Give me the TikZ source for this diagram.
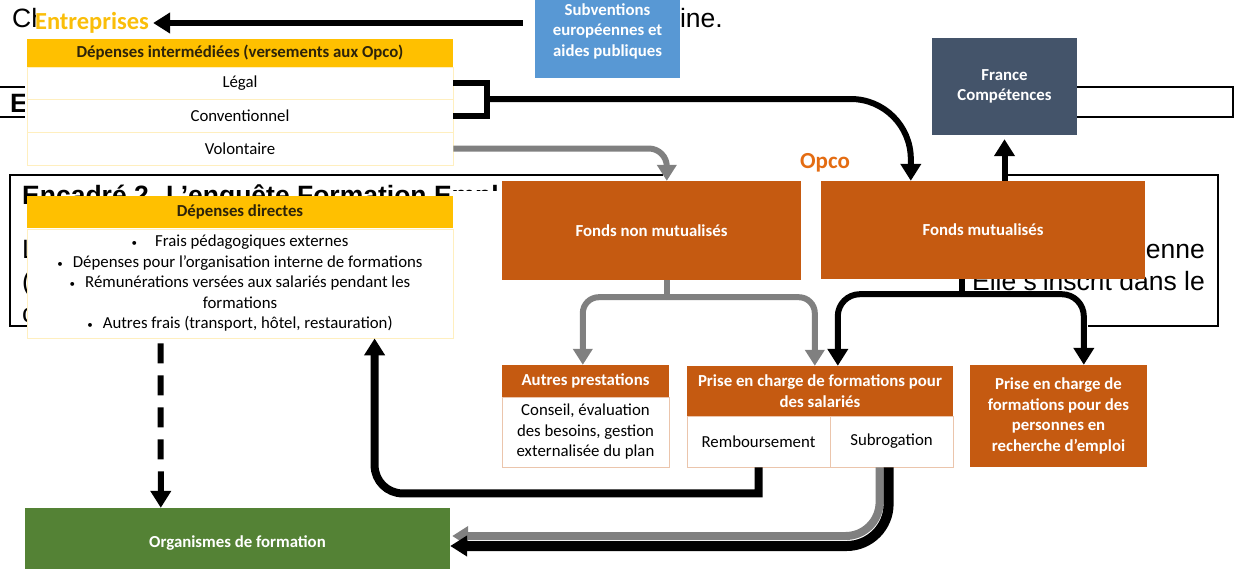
\documentclass[tikz,border=0pt]{standalone}
\usepackage{fontspec}
\setmainfont{Carlito}
\newfontfamily\pagefont{Liberation Sans}
\usetikzlibrary{arrows.meta, calc, positioning}

\definecolor{gold}{RGB}{255,192,0}
\definecolor{goldtext}{RGB}{250,190,10}
\definecolor{headtext}{RGB}{45,35,10}
\definecolor{opcoorange}{RGB}{197,90,17}
\definecolor{opcolabel}{RGB}{228,108,18}
\definecolor{subvblue}{RGB}{88,152,212}
\definecolor{fcslate}{RGB}{68,84,106}
\definecolor{ofgreen}{RGB}{84,130,53}
\definecolor{arrowgray}{RGB}{128,128,128}

\newcommand{\diagfont}{\fontsize{16.8}{20.5}\selectfont}
\newcommand{\bigfont}{\pagefont\fontsize{26.5}{32}\selectfont}
\newcommand{\puce}{{\fontsize{11}{11}\selectfont •}}

\tikzstyle{goldhead} = [rectangle, minimum width=426pt, inner sep=0pt, fill=gold, text=headtext, font=\diagfont\bfseries]
\tikzstyle{goldrow} = [rectangle, minimum width=426pt, inner sep=0pt, draw=gold!25, line width=0.8pt, fill=white, font=\diagfont, align=center]
\tikzstyle{opcobox} = [rectangle, inner sep=0pt, fill=opcoorange, text=white, font=\diagfont\bfseries, align=center]
\tikzstyle{opcocell} = [rectangle, inner sep=0pt, draw=opcoorange!35, line width=0.8pt, fill=white, font=\diagfont, align=center]
\tikzstyle{plainbox} = [rectangle, inner sep=0pt, text=white, font=\diagfont\bfseries, align=center]
\tikzstyle{blackline} = [line width=6pt, draw=black]
\tikzstyle{grayline} = [line width=6pt, draw=arrowgray]
\tikzstyle{blackarrow} = [blackline, -{Triangle[width=20pt,length=17pt]}]
\tikzstyle{grayarrow} = [grayline, -{Triangle[width=19pt,length=16pt]}]
\tikzstyle{pageline} = [line width=1.5pt, draw=black]
\tikzstyle{pagetext} = [inner sep=0pt, anchor=base west, font=\bigfont]
\tikzstyle{mask} = [fill=white, draw=none]

\begin{document}
\begin{tikzpicture}[x=1pt, y=-1pt]

\useasboundingbox (0, 0) rectangle (1236, 568);
\clip (0, 0) rectangle (1236, 568);

\draw [pageline] (-5, 87) rectangle (1233, 117);
\draw [pageline] (10, 175) rectangle (1218, 326);
\node at (12, 27) (champ) [pagetext] {Ch};
\node at (723, 27) (metropole) [pagetext, anchor=base east] {aine.};
\node at (10, 112) (encadre1) [pagetext, font=\bigfont\bfseries] {E};
\node at (22, 204) (encadre2) [pagetext, font=\bigfont\bfseries] {Encadré 2. L’enquête Formation Empl};
\node at (22, 258) (ligne1) [pagetext] {L};
\node at (1205, 258) (ligne1fin) [pagetext, anchor=base east] {enne};
\node at (22, 290) (ligne2) [pagetext] {(};
\node at (1205, 290) (ligne2fin) [pagetext, anchor=base east] {Elle s’inscrit dans le};
\node at (22, 322) (ligne3) [pagetext] {c};

\fill [mask] (36, 2) rectangle (535, 36);
\fill [mask] (25, 78) rectangle (932, 125);
\fill [mask] (663, 140) rectangle (1003, 181);
\fill [mask] (453, 191) rectangle (502, 240);
\fill [mask] (453, 318) rectangle (1088, 334);

\node at (92, 23) (entreprises) [font=\fontsize{24.5}{26}\selectfont\bfseries, text=goldtext, inner sep=4pt] {Entreprises};
\node at (607.5, 31) (subventions) [plainbox, fill=subvblue, minimum width=145pt, minimum height=94pt] {Subventions\\européennes et\\aides publiques};

\node at (240, 53) (intermediees) [goldhead, minimum height=28pt] {Dépenses intermédiées (versements aux Opco)};
\node at (240, 83) (legal) [goldrow, minimum height=32pt] {Légal};
\node at (240, 115.5) (conventionnel) [goldrow, minimum height=33pt] {Conventionnel};
\node at (240, 148.5) (volontaire) [goldrow, minimum height=33pt] {Volontaire};

\node at (1004.5, 86.5) (francecomp) [plainbox, fill=fcslate, minimum width=145pt, minimum height=97pt] {France\\Compétences};

\node at (825, 163) (opco) [font=\fontsize{23}{25}\selectfont\bfseries, text=opcolabel] {Opco};
\node at (651.5, 230.5) (nonmutu) [opcobox, minimum width=299pt, minimum height=99pt] {Fonds non mutualisés};
\node at (983, 230) (mutu) [opcobox, minimum width=324pt, minimum height=98pt] {\raisebox{-6pt}{Fonds mutualisés}};

\node at (240, 212) (directes) [goldhead, minimum height=32pt] {Dépenses directes};
\node at (240, 283.5) (directesliste) [goldrow, minimum height=109pt] {%
\puce\hspace{18pt}Frais pédagogiques externes\\
\puce\hspace{10pt}Dépenses pour l’organisation interne de formations\\
\puce\hspace{10pt}Rémunérations versées aux salariés pendant les\\
formations\\
\puce\hspace{10pt}Autres frais (transport, hôtel, restauration)};

\node at (585.5, 381) (autres) [opcobox, minimum width=167pt, minimum height=32pt] {Autres prestations};
\node at (585.5, 432) (autresliste) [opcocell, minimum width=167pt, minimum height=70pt] {Conseil, évaluation\\des besoins, gestion\\externalisée du plan};

\node at (820, 391) (salaries) [opcobox, minimum width=266pt, minimum height=50pt] {Prise en charge de formations pour\\des salariés};
\node at (758.5, 441.5) (remboursement) [opcocell, minimum width=143pt, minimum height=51pt] {Remboursement};
\node at (891.5, 441.5) (subrogation) [opcocell, minimum width=123pt, minimum height=51pt] {Subrogation};

\node at (1058.5, 416) (emploi) [opcobox, minimum width=177pt, minimum height=102pt] {Prise en charge de\\formations pour des\\personnes en\\recherche d’emploi};

\node at (237.5, 543) (organismes) [plainbox, fill=ofgreen, minimum width=425pt, minimum height=70pt] {Organismes de formation};

\coordinate (bracket) at ($(legal.east)+(34,16)$);
\coordinate (mutuin) at ($(mutu.north west)+(90,0)$);
\coordinate (nonmutuin) at ($(nonmutu.north west)+(165,0)$);
\coordinate (graystem) at ($(nonmutu.south west)+(165,0)$);
\coordinate (grayfork) at ($(graystem)+(0,17)$);
\coordinate (blackstem) at ($(mutu.south west)+(141,0)$);
\coordinate (blackfork) at ($(blackstem)+(0,15)$);
\coordinate (autresin) at ($(autres.north west)+(81,0)$);
\coordinate (salariesgray) at ($(salaries.north west)+(128,0)$);
\coordinate (salariesblack) at ($(salaries.north west)+(151,0)$);
\coordinate (emploiin) at ($(emploi.north west)+(114,0)$);
\coordinate (directesin) at ($(directesliste.south west)+(348,0)$);
\coordinate (rembturn) at ($(directesin)+(0,155)$);
\coordinate (subrogray) at ($(subrogation.south west)+(50,0)$);
\coordinate (subroblack) at ($(subrogation.south west)+(59,0)$);
\coordinate (orggray) at ($(organismes.east)+(2,-7)$);
\coordinate (orgblack) at ($(organismes.east)+(0,3)$);

\draw [blackarrow] ([xshift=-12pt]subventions.west |- entreprises.east) -- (entreprises.east);

\draw [blackline, line join=miter] (legal.east) -| (bracket) |- (conventionnel.east);
\draw [blackarrow, rounded corners=60pt] (bracket) -| (mutuin);
\draw [grayarrow, rounded corners=18pt] (volontaire.east) -| (nonmutuin);
\draw [blackarrow, shorten >=4pt] (mutu.north -| francecomp.south) -- (francecomp.south);

\draw [grayline] (graystem) -- (grayfork);
\draw [grayarrow, rounded corners=16pt] (grayfork) -| (autresin);
\draw [grayarrow, rounded corners=16pt] (grayfork) -| (salariesgray);
\draw [blackline] (blackstem) -- (blackfork);
\draw [blackarrow, rounded corners=22pt] (blackfork) -| (salariesblack);
\draw [blackarrow, rounded corners=22pt] (blackfork) -| (emploiin);

\draw [blackarrow, line width=8pt] (remboursement.south) -- (remboursement.south |- rembturn) [rounded corners=28pt] -- (rembturn) -- (directesin);
\draw [grayarrow, line width=8pt, rounded corners=34pt] (subrogray) |- (orggray);
\draw [blackarrow, line width=10pt, rounded corners=42pt] (subroblack) |- (orgblack);

\draw [blackarrow, dash pattern=on 20pt off 12pt, shorten <=5pt] ($(directesliste.south west)+(134,0)$) -- ($(organismes.north west)+(136,0)$);

\end{tikzpicture}
\end{document}
